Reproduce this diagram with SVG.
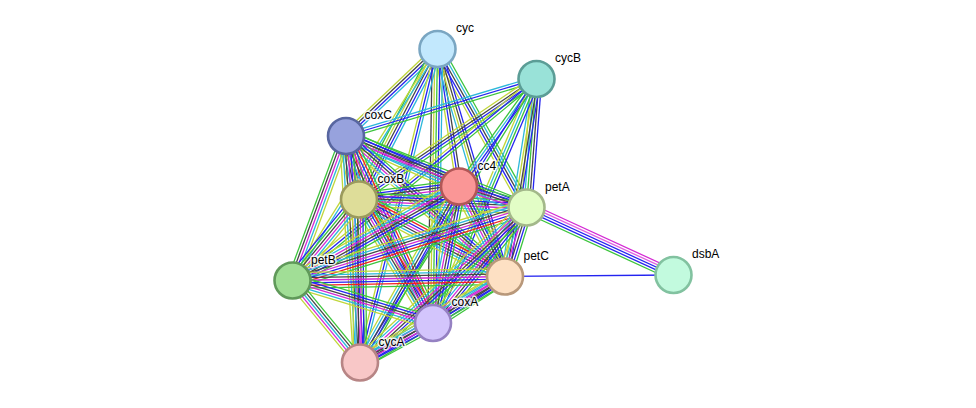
<svg xmlns="http://www.w3.org/2000/svg" width="976" height="408" viewBox="0 0 976 408">
<style>
.e path{fill:none;stroke-width:1.3;vector-effect:non-scaling-stroke}
.g{stroke:#3cc43c}.r{stroke:#f02020}.b{stroke:#2424f0}.m{stroke:#d42ad4}.k{stroke:#454545}.c{stroke:#2db8da}.y{stroke:#c0d63a}
.n circle{stroke-width:2.6}
.n text{font-family:"Liberation Sans",Arial,sans-serif;font-size:12px;fill:#000;stroke:#fff;stroke-width:3;stroke-opacity:.85;paint-order:stroke;stroke-linejoin:round}
</style>
<rect width="976" height="408" fill="#fff"/>
<g id="edges" class="e">
<g transform="matrix(-91.5 87 -.689 -.724 437.5 49)"><path class="c" d="M0-3.9H1"/><path class="b" d="M0-1.3H1"/><path class="k" d="M0 1.3H1"/><path class="y" d="M0 3.9H1"/></g>
<g transform="matrix(-78.5 150.5 -.887 -.463 437.5 49)"><path class="c" d="M0-5.2H1"/><path class="b" d="M0-2.6H1"/><path class="k" d="M0 0H1"/><path class="y" d="M0 2.6H1"/><path class="g" d="M0 5.2H1"/></g>
<g transform="matrix(21.5 137.5 -.988 .154 437.5 49)"><path class="k" d="M0-2.6H1"/><path class="b" d="M0 0H1"/><path class="y" d="M0 2.6H1"/></g>
<g transform="matrix(89 158.5 -.872 .49 437.5 49)"><path class="g" d="M0-5.2H1"/><path class="c" d="M0-2.6H1"/><path class="k" d="M0 0H1"/><path class="b" d="M0 2.6H1"/><path class="y" d="M0 5.2H1"/></g>
<g transform="matrix(67.5 227.5 -.959 .284 437.5 49)"><path class="b" d="M0-3.9H1"/><path class="k" d="M0-1.3H1"/><path class="y" d="M0 1.3H1"/><path class="c" d="M0 3.9H1"/></g>
<g transform="matrix(-4.5 274 -1 -.016 437.5 49)"><path class="c" d="M0-5.2H1"/><path class="b" d="M0-2.6H1"/><path class="g" d="M0 0H1"/><path class="y" d="M0 2.6H1"/><path class="k" d="M0 5.2H1"/></g>
<g transform="matrix(-77.5 313.5 -.971 -.24 437.5 49)"><path class="c" d="M0-2.6H1"/><path class="b" d="M0 0H1"/><path class="y" d="M0 2.6H1"/></g>
<g transform="matrix(-145 231.5 -.847 -.531 437.5 49)"><path class="c" d="M0-1.3H1"/><path class="y" d="M0 1.3H1"/></g>
<g transform="matrix(-190.5 57 -.287 -.958 536.5 79)"><path class="g" d="M0-2.6H1"/><path class="b" d="M0 0H1"/><path class="c" d="M0 2.6H1"/></g>
<g transform="matrix(-177.5 120.5 -.562 -.828 536.5 79)"><path class="g" d="M0-3.9H1"/><path class="b" d="M0-1.3H1"/><path class="k" d="M0 1.3H1"/><path class="y" d="M0 3.9H1"/></g>
<g transform="matrix(-77.5 107.5 -.811 -.585 536.5 79)"><path class="b" d="M0-2.6H1"/><path class="c" d="M0 0H1"/><path class="g" d="M0 2.6H1"/></g>
<g transform="matrix(-10 128.5 -.997 -.078 536.5 79)"><path class="b" d="M0-5.2H1"/><path class="k" d="M0-2.6H1"/><path class="g" d="M0 0H1"/><path class="c" d="M0 2.6H1"/><path class="y" d="M0 5.2H1"/></g>
<g transform="matrix(-31.5 197.5 -.988 -.158 536.5 79)"><path class="b" d="M0-3.9H1"/><path class="k" d="M0-1.3H1"/><path class="y" d="M0 1.3H1"/><path class="c" d="M0 3.9H1"/></g>
<g transform="matrix(-103.5 244 -.921 -.391 536.5 79)"><path class="b" d="M0-3.9H1"/><path class="g" d="M0-1.3H1"/><path class="c" d="M0 1.3H1"/><path class="y" d="M0 3.9H1"/></g>
<g transform="matrix(-176.5 283.5 -.849 -.528 536.5 79)"><path class="g" d="M0-1.3H1"/><path class="b" d="M0 1.3H1"/></g>
<g transform="matrix(-244 201.5 -.637 -.771 536.5 79)"><path class="g" d="M0-2.6H1"/><path class="b" d="M0 0H1"/><path class="y" d="M0 2.6H1"/></g>
<g transform="matrix(13 63.5 -.98 .201 346 136)"><path class="g" d="M0-7.8H1"/><path class="r" d="M0-5.2H1"/><path class="b" d="M0-2.6H1"/><path class="m" d="M0 0H1"/><path class="k" d="M0 2.6H1"/><path class="c" d="M0 5.2H1"/><path class="y" d="M0 7.8H1"/></g>
<g transform="matrix(113 50.5 -.408 .913 346 136)"><path class="g" d="M0-6.5H1"/><path class="b" d="M0-3.9H1"/><path class="k" d="M0-1.3H1"/><path class="m" d="M0 1.3H1"/><path class="c" d="M0 3.9H1"/><path class="y" d="M0 6.5H1"/></g>
<g transform="matrix(180.5 71.5 -.368 .93 346 136)"><path class="g" d="M0-5.2H1"/><path class="b" d="M0-2.6H1"/><path class="k" d="M0 0H1"/><path class="m" d="M0 2.6H1"/><path class="c" d="M0 5.2H1"/></g>
<g transform="matrix(159 140.5 -.662 .749 346 136)"><path class="g" d="M0-6.5H1"/><path class="b" d="M0-3.9H1"/><path class="k" d="M0-1.3H1"/><path class="m" d="M0 1.3H1"/><path class="c" d="M0 3.9H1"/><path class="y" d="M0 6.5H1"/></g>
<g transform="matrix(-53.5 144.5 -.938 -.347 346 136)"><path class="y" d="M0-5.2H1"/><path class="c" d="M0-2.6H1"/><path class="m" d="M0 0H1"/><path class="k" d="M0 2.6H1"/><path class="g" d="M0 5.2H1"/></g>
<g transform="matrix(87 187 -.907 .422 346 136)"><path class="g" d="M0-7.8H1"/><path class="r" d="M0-5.2H1"/><path class="b" d="M0-2.6H1"/><path class="m" d="M0 0H1"/><path class="k" d="M0 2.6H1"/><path class="c" d="M0 5.2H1"/><path class="y" d="M0 7.8H1"/></g>
<g transform="matrix(14 226.5 -.998 .062 346 136)"><path class="g" d="M0-6.5H1"/><path class="b" d="M0-3.9H1"/><path class="m" d="M0-1.3H1"/><path class="k" d="M0 1.3H1"/><path class="c" d="M0 3.9H1"/><path class="y" d="M0 6.5H1"/></g>
<g transform="matrix(100 -13 .129 .992 359 199.5)"><path class="g" d="M0-6.5H1"/><path class="b" d="M0-3.9H1"/><path class="k" d="M0-1.3H1"/><path class="m" d="M0 1.3H1"/><path class="c" d="M0 3.9H1"/><path class="y" d="M0 6.5H1"/></g>
<g transform="matrix(167.5 8 -.048 .999 359 199.5)"><path class="g" d="M0-6.5H1"/><path class="b" d="M0-3.9H1"/><path class="k" d="M0-1.3H1"/><path class="m" d="M0 1.3H1"/><path class="c" d="M0 3.9H1"/><path class="y" d="M0 6.5H1"/></g>
<g transform="matrix(146 77 -.466 .884 359 199.5)"><path class="g" d="M0-7.8H1"/><path class="r" d="M0-5.2H1"/><path class="b" d="M0-2.6H1"/><path class="m" d="M0 0H1"/><path class="k" d="M0 2.6H1"/><path class="c" d="M0 5.2H1"/><path class="y" d="M0 7.8H1"/></g>
<g transform="matrix(-66.5 81 -.773 -.635 359 199.5)"><path class="y" d="M0-6.5H1"/><path class="c" d="M0-3.9H1"/><path class="m" d="M0-1.3H1"/><path class="k" d="M0 1.3H1"/><path class="g" d="M0 3.9H1"/><path class="b" d="M0 6.5H1"/></g>
<g transform="matrix(74 123.5 -.858 .514 359 199.5)"><path class="g" d="M0-7.8H1"/><path class="r" d="M0-5.2H1"/><path class="b" d="M0-2.6H1"/><path class="m" d="M0 0H1"/><path class="k" d="M0 2.6H1"/><path class="c" d="M0 5.2H1"/><path class="y" d="M0 7.8H1"/></g>
<g transform="matrix(1 163 -1 .006 359 199.5)"><path class="g" d="M0-6.5H1"/><path class="b" d="M0-3.9H1"/><path class="m" d="M0-1.3H1"/><path class="k" d="M0 1.3H1"/><path class="c" d="M0 3.9H1"/><path class="y" d="M0 6.5H1"/></g>
<g transform="matrix(67.5 21 -.297 .955 459 186.5)"><path class="g" d="M0-5.2H1"/><path class="b" d="M0-2.6H1"/><path class="k" d="M0 0H1"/><path class="m" d="M0 2.6H1"/><path class="c" d="M0 5.2H1"/></g>
<g transform="matrix(46 90 -.89 .455 459 186.5)"><path class="g" d="M0-6.5H1"/><path class="b" d="M0-3.9H1"/><path class="k" d="M0-1.3H1"/><path class="m" d="M0 1.3H1"/><path class="c" d="M0 3.9H1"/><path class="y" d="M0 6.5H1"/></g>
<g transform="matrix(-166.5 94 -.492 -.871 459 186.5)"><path class="g" d="M0-6.5H1"/><path class="b" d="M0-3.9H1"/><path class="k" d="M0-1.3H1"/><path class="m" d="M0 1.3H1"/><path class="c" d="M0 3.9H1"/><path class="y" d="M0 6.5H1"/></g>
<g transform="matrix(-26 136.5 -.982 -.187 459 186.5)"><path class="g" d="M0-6.5H1"/><path class="b" d="M0-3.9H1"/><path class="k" d="M0-1.3H1"/><path class="m" d="M0 1.3H1"/><path class="c" d="M0 3.9H1"/><path class="y" d="M0 6.5H1"/></g>
<g transform="matrix(-99 176 -.872 -.49 459 186.5)"><path class="g" d="M0-5.2H1"/><path class="b" d="M0-2.6H1"/><path class="k" d="M0 0H1"/><path class="c" d="M0 2.6H1"/><path class="y" d="M0 5.2H1"/></g>
<g transform="matrix(147 67.5 -.417 .909 526.5 207.5)"><path class="m" d="M0-5.2H1"/><path class="m" d="M0-2.6H1" style="stroke:#e060e0"/><path class="b" d="M0 0H1"/><path class="b" d="M0 2.6H1"/><path class="g" d="M0 5.2H1"/></g>
<g transform="matrix(-21.5 69 -.954 -.297 526.5 207.5)"><path class="g" d="M0-6.5H1"/><path class="b" d="M0-3.9H1"/><path class="k" d="M0-1.3H1"/><path class="m" d="M0 1.3H1"/><path class="c" d="M0 3.9H1"/><path class="y" d="M0 6.5H1"/></g>
<g transform="matrix(-234 73 -.298 -.955 526.5 207.5)"><path class="g" d="M0-7.8H1"/><path class="r" d="M0-5.2H1"/><path class="b" d="M0-2.6H1"/><path class="m" d="M0 0H1"/><path class="k" d="M0 2.6H1"/><path class="c" d="M0 5.2H1"/><path class="y" d="M0 7.8H1"/></g>
<g transform="matrix(-93.5 115.5 -.777 -.629 526.5 207.5)"><path class="g" d="M0-6.5H1"/><path class="b" d="M0-3.9H1"/><path class="k" d="M0-1.3H1"/><path class="m" d="M0 1.3H1"/><path class="c" d="M0 3.9H1"/><path class="y" d="M0 6.5H1"/></g>
<g transform="matrix(-166.5 155 -.681 -.732 526.5 207.5)"><path class="g" d="M0-6.5H1"/><path class="b" d="M0-3.9H1"/><path class="k" d="M0-1.3H1"/><path class="m" d="M0 1.3H1"/><path class="c" d="M0 3.9H1"/><path class="y" d="M0 6.5H1"/></g>
<g transform="matrix(168.5 -1.5 .009 1 505 276.5)"><path class="b" d="M0 0H1"/></g>
<g transform="matrix(-212.5 4 -.019 -1 505 276.5)"><path class="g" d="M0-7.8H1"/><path class="r" d="M0-5.2H1"/><path class="b" d="M0-2.6H1"/><path class="m" d="M0 0H1"/><path class="k" d="M0 2.6H1"/><path class="c" d="M0 5.2H1"/><path class="y" d="M0 7.8H1"/></g>
<g transform="matrix(-72 46.5 -.543 -.84 505 276.5)"><path class="g" d="M0-6.5H1"/><path class="b" d="M0-3.9H1"/><path class="k" d="M0-1.3H1"/><path class="m" d="M0 1.3H1"/><path class="c" d="M0 3.9H1"/><path class="y" d="M0 6.5H1"/></g>
<g transform="matrix(-145 86 -.51 -.86 505 276.5)"><path class="g" d="M0-6.5H1"/><path class="b" d="M0-3.9H1"/><path class="k" d="M0-1.3H1"/><path class="m" d="M0 1.3H1"/><path class="c" d="M0 3.9H1"/><path class="y" d="M0 6.5H1"/></g>
<g transform="matrix(140.5 42.5 -.29 .957 292.5 280.5)"><path class="g" d="M0-6.5H1"/><path class="b" d="M0-3.9H1"/><path class="k" d="M0-1.3H1"/><path class="m" d="M0 1.3H1"/><path class="c" d="M0 3.9H1"/><path class="y" d="M0 6.5H1"/></g>
<g transform="matrix(67.5 82 -.772 .636 292.5 280.5)"><path class="g" d="M0-5.2H1"/><path class="k" d="M0-2.6H1"/><path class="c" d="M0 0H1"/><path class="m" d="M0 2.6H1"/><path class="y" d="M0 5.2H1"/></g>
<g transform="matrix(-73 39.5 -.476 -.88 433 323)"><path class="g" d="M0-6.5H1"/><path class="b" d="M0-3.9H1"/><path class="m" d="M0-1.3H1"/><path class="k" d="M0 1.3H1"/><path class="c" d="M0 3.9H1"/><path class="y" d="M0 6.5H1"/></g>
</g>
<g id="cyc" class="n"><circle cx="437.5" cy="49" r="18" fill="#c2e8fd" stroke="#7aa6c2"/><text x="456" y="32">cyc</text></g>
<g id="cycB" class="n"><circle cx="536.5" cy="79" r="18" fill="#99e2d8" stroke="#5b9d96"/><text x="555" y="62">cycB</text></g>
<g id="coxC" class="n"><circle cx="346" cy="136" r="18" fill="#97a2dd" stroke="#5866a0"/><text x="364.5" y="119">coxC</text></g>
<g id="cc4" class="n"><circle cx="459" cy="186.5" r="18" fill="#fa9696" stroke="#b25757"/><text x="477.5" y="169.5">cc4</text></g>
<g id="coxB" class="n"><circle cx="359" cy="199.5" r="18" fill="#dedd99" stroke="#9b9a5d"/><text x="377.5" y="182.5">coxB</text></g>
<g id="petA" class="n"><circle cx="526.5" cy="207.5" r="18" fill="#e2fdc6" stroke="#a3b88a"/><text x="545" y="190.5">petA</text></g>
<g id="dsbA" class="n"><circle cx="673.5" cy="275" r="18" fill="#c2fade" stroke="#82c2a0"/><text x="692" y="258">dsbA</text></g>
<g id="petC" class="n"><circle cx="505" cy="276.5" r="18" fill="#fde0c3" stroke="#b8987a"/><text x="523.5" y="259.5">petC</text></g>
<g id="petB" class="n"><circle cx="292.5" cy="280.5" r="18" fill="#a1de96" stroke="#60995a"/><text x="311" y="263.5">petB</text></g>
<g id="coxA" class="n"><circle cx="433" cy="323" r="18" fill="#d3c5fc" stroke="#9581c2"/><text x="451.5" y="306">coxA</text></g>
<g id="cycA" class="n"><circle cx="360" cy="362.5" r="18" fill="#f8c7c7" stroke="#b78585"/><text x="378.5" y="345.5">cycA</text></g>
</svg>
